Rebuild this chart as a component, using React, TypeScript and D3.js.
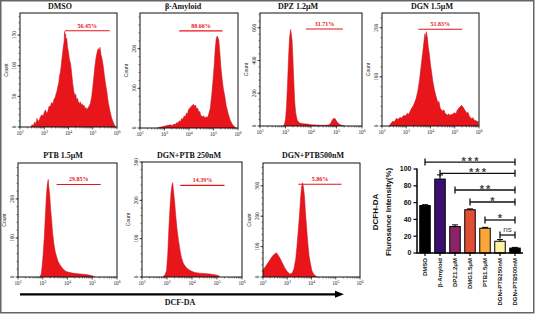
import React from 'react';
import * as d3 from 'd3';

// ---------------- DATA ----------------
const panelTitles = ['DMSO', 'β-Amyloid', 'DPZ 1.2μM', 'DGN 1.5μM', 'PTB 1.5μM', 'DGN+PTB 250nM', 'DGN+PTB500nM'];
const gatePercents = ['56.45%', '88.66%', '31.71%', '51.83%', '29.85%', '14.39%', '5.86%'];
const gateRanges: [number, number][] = [[3.85, 5.7], [3.6, 5.37], [3.8, 5.25], [3.5, 5.31], [3.56, 5.34], [3.53, 5.3], [3.46, 5.24]];
const gateHeights = [157, 245, 592, 197, 237, 239, 305];
const yMaxes = [186, 290, 690, 230, 292, 300, 375];
const yTickValues = [[0, 50, 100, 150], [0, 100, 200], [0, 200, 400, 600], [0, 100, 200], [0, 100, 200], [0, 100, 200, 300], [0, 100, 200, 300]];
const yMinorSteps = [10, 20, 40, 20, 20, 20, 20];
const xDecades = [2, 3, 4, 5, 6];

// histograms: [log10 fluorescence, count]
const dmsoHist: [number, number][] = [[2.45, 0], [2.5, 4], [2.55, 2], [2.6, 8], [2.65, 5], [2.7, 14], [2.75, 9], [2.8, 12], [2.85, 17], [2.9, 20], [2.96, 18], [3.0, 24], [3.05, 28], [3.1, 22], [3.15, 26], [3.2, 34], [3.25, 33], [3.3, 40], [3.35, 38], [3.4, 45], [3.45, 48], [3.5, 56], [3.52, 58], [3.56, 66], [3.6, 72], [3.63, 84], [3.66, 88], [3.7, 100], [3.73, 112], [3.75, 118], [3.79, 132], [3.82, 140], [3.84, 156], [3.86, 148], [3.88, 152], [3.9, 140], [3.93, 145], [3.96, 130], [4.0, 122], [4.04, 110], [4.08, 104], [4.12, 92], [4.17, 72], [4.22, 58], [4.27, 50], [4.3, 54], [4.33, 44], [4.37, 47], [4.4, 42], [4.46, 38], [4.49, 41], [4.52, 36], [4.56, 38], [4.6, 34], [4.64, 36], [4.68, 30], [4.72, 32], [4.75, 28], [4.82, 32], [4.86, 35], [4.9, 38], [4.96, 50], [5.02, 72], [5.08, 96], [5.13, 112], [5.18, 122], [5.22, 128], [5.26, 124], [5.3, 130], [5.34, 118], [5.38, 112], [5.43, 100], [5.48, 84], [5.53, 70], [5.58, 58], [5.64, 40], [5.7, 28], [5.77, 16], [5.84, 8], [5.9, 3], [5.95, 0]];
const amyloidHist: [number, number][] = [[2.7, 0], [2.8, 2], [2.95, 4], [3.1, 6], [3.25, 8], [3.3, 6], [3.4, 10], [3.45, 9], [3.5, 14], [3.55, 12], [3.6, 18], [3.65, 16], [3.7, 24], [3.75, 22], [3.8, 30], [3.85, 29], [3.9, 38], [3.94, 36], [3.98, 46], [4.05, 52], [4.12, 56], [4.18, 60], [4.22, 55], [4.26, 58], [4.32, 48], [4.36, 50], [4.4, 40], [4.44, 42], [4.48, 32], [4.56, 28], [4.6, 31], [4.64, 26], [4.72, 28], [4.76, 27], [4.8, 34], [4.87, 50], [4.93, 85], [4.98, 120], [5.03, 160], [5.07, 200], [5.11, 225], [5.15, 232], [5.18, 228], [5.22, 220], [5.26, 190], [5.3, 155], [5.35, 125], [5.4, 100], [5.46, 80], [5.52, 56], [5.6, 36], [5.68, 20], [5.76, 10], [5.85, 4], [5.92, 0]];
const dpzHist: [number, number][] = [[2.9, 0], [2.96, 10], [3.0, 40], [3.04, 120], [3.08, 260], [3.12, 420], [3.16, 540], [3.2, 590], [3.23, 560], [3.26, 520], [3.29, 420], [3.32, 300], [3.36, 150], [3.4, 80], [3.46, 35], [3.55, 18], [3.7, 14], [3.85, 12], [4.0, 8], [4.2, 6], [4.4, 4], [4.6, 5], [4.72, 8], [4.78, 20], [4.84, 38], [4.9, 48], [4.95, 44], [5.0, 30], [5.06, 18], [5.14, 8], [5.25, 3], [5.32, 0]];
const dgnHist: [number, number][] = [[2.3, 0], [2.35, 4], [2.45, 10], [2.5, 8], [2.6, 16], [2.65, 13], [2.75, 18], [2.8, 16], [2.9, 22], [2.95, 20], [3.05, 26], [3.1, 24], [3.2, 34], [3.3, 42], [3.4, 55], [3.48, 72], [3.55, 95], [3.62, 125], [3.68, 150], [3.73, 172], [3.77, 188], [3.8, 178], [3.83, 192], [3.87, 180], [3.91, 160], [3.95, 148], [4.0, 125], [4.05, 108], [4.1, 90], [4.16, 74], [4.22, 62], [4.3, 48], [4.35, 50], [4.4, 36], [4.5, 30], [4.55, 33], [4.6, 26], [4.7, 22], [4.75, 25], [4.8, 22], [4.9, 24], [5.0, 27], [5.05, 25], [5.1, 32], [5.2, 38], [5.28, 42], [5.35, 38], [5.42, 32], [5.5, 26], [5.55, 28], [5.6, 20], [5.7, 15], [5.75, 17], [5.8, 12], [5.9, 10], [5.98, 8]];
const ptbHist: [number, number][] = [[2.88, 0], [2.94, 8], [2.98, 30], [3.02, 62], [3.06, 100], [3.1, 150], [3.14, 200], [3.18, 235], [3.22, 250], [3.25, 228], [3.28, 212], [3.32, 172], [3.36, 145], [3.4, 112], [3.45, 85], [3.5, 66], [3.56, 52], [3.62, 40], [3.7, 31], [3.78, 24], [3.86, 18], [3.95, 14], [4.05, 12], [4.2, 10], [4.35, 9], [4.5, 8], [4.65, 7], [4.8, 6], [4.95, 4], [5.05, 2], [5.1, 0]];
const combo250Hist: [number, number][] = [[2.84, 0], [2.92, 6], [2.98, 16], [3.03, 60], [3.07, 120], [3.11, 170], [3.16, 220], [3.2, 240], [3.23, 246], [3.26, 225], [3.3, 200], [3.35, 160], [3.4, 125], [3.46, 95], [3.52, 70], [3.58, 50], [3.65, 36], [3.75, 26], [3.85, 20], [3.95, 16], [4.1, 12], [4.3, 10], [4.5, 9], [4.7, 8], [4.9, 6], [5.05, 4], [5.12, 0]];
const combo500Hist: [number, number][] = [[2.0, 24], [2.1, 34], [2.2, 46], [2.3, 58], [2.4, 70], [2.48, 76], [2.55, 80], [2.62, 72], [2.7, 62], [2.8, 46], [2.9, 30], [3.0, 18], [3.1, 10], [3.2, 12], [3.28, 28], [3.35, 60], [3.4, 100], [3.45, 150], [3.5, 200], [3.55, 260], [3.59, 296], [3.63, 310], [3.67, 295], [3.71, 265], [3.75, 215], [3.8, 160], [3.85, 110], [3.9, 70], [3.96, 42], [4.02, 20], [4.1, 8], [4.2, 2], [4.25, 0]];
const histograms = [dmsoHist, amyloidHist, dpzHist, dgnHist, ptbHist, combo250Hist, combo500Hist];

// bar chart
const barCategories = ['DMSO', 'β-Amyloid', 'DPZ1.2μM', 'DMG1.5μM', 'PTB1.5μM', 'DGN+PTB250nM', 'DGN+PTB500nM'];
const barValues = [56.5, 88, 31.5, 51.5, 29.5, 14, 5.86];
const barErrors = [1, 5, 2, 1, 1, 2, 0.8];
const barYTicks = [0, 20, 40, 60, 80, 100];
const sigFrom = [0, 1, 2, 3, 4, 5];
const sigTo = [6, 6, 6, 6, 6, 6];
const sigLabels = ['***', '***', '**', '*', '*', 'ns'];
const sigLevels = [108.3, 94.9, 75, 60.7, 39.3, 21.4];

// ---------------- LAYOUT / STYLE ----------------
const W = 535, H = 314;
type Box = { x0: number; x1: number; y0: number; y1: number };
const panelBoxes: Box[] = [
  { x0: 20, x1: 117, y0: 13, y1: 127 },
  { x0: 140, x1: 238, y0: 13, y1: 128 },
  { x0: 260, x1: 362, y0: 13, y1: 126 },
  { x0: 382, x1: 479, y0: 13, y1: 126 },
  { x0: 18, x1: 117, y0: 163, y1: 277 },
  { x0: 142, x1: 242, y0: 162, y1: 277 },
  { x0: 263, x1: 360, y0: 163, y1: 277 },
];
const titlePos = [[60, 9], [183, 9], [298, 9], [432, 9], [63, 158], [189, 158], [313, 158]];
const barColors = ['#000000', '#3b0f6f', '#8c2369', '#de4f33', '#fca636', '#fcf4a3', '#000000'];
const RED = '#e8151b';
const SERIF = '"Liberation Serif", "Times New Roman", serif';
const SANS = '"Liberation Sans", Arial, sans-serif';

function Hist({ i }: { i: number }) {
  const b = panelBoxes[i];
  const x = d3.scaleLog().domain([1e2, 1e6]).range([b.x0, b.x1]);
  const y = d3.scaleLinear().domain([0, yMaxes[i]]).range([b.y1, b.y0]);
  const area = d3.area<[number, number]>()
    .x(d => x(Math.pow(10, d[0])))
    .y0(b.y1)
    .y1(d => y(d[1]));
  const line = d3.line<[number, number]>()
    .x(d => x(Math.pow(10, d[0])))
    .y(d => y(d[1]));
  const minorX = x.ticks().filter(t => {
    const l = Math.log10(t);
    return Math.abs(l - Math.round(l)) > 1e-6;
  });
  const minorY = d3.range(0, yMaxes[i] + 0.1, yMinorSteps[i]);
  const [g0, g1] = gateRanges[i];
  const gy = y(gateHeights[i]);
  const gx0 = x(Math.pow(10, g0));
  const gx1 = x(Math.pow(10, g1));
  const midY = (b.y0 + b.y1) / 2;
  return (
    <g>
      <path d={area(histograms[i]) || ''} fill={RED} />
      <path d={line(histograms[i]) || ''} fill="none" stroke="#c4101a" strokeWidth={0.5} />
      <rect x={b.x0} y={b.y0} width={b.x1 - b.x0} height={b.y1 - b.y0} fill="none" stroke="#111" strokeWidth={1} />
      {minorX.map((t, k) => (
        <line key={'mx' + k} x1={x(t)} x2={x(t)} y1={b.y1} y2={b.y1 + 1.5} stroke="#111" strokeWidth={0.5} />
      ))}
      {xDecades.map(d => (
        <g key={'xd' + d}>
          <line x1={x(Math.pow(10, d))} x2={x(Math.pow(10, d))} y1={b.y1} y2={b.y1 + 2.5} stroke="#111" strokeWidth={0.7} />
          <text x={x(Math.pow(10, d))} y={b.y1 + 8} textAnchor="middle" fontSize={5.2} fontFamily={SERIF} fill="#222">
            10<tspan dy={-2} fontSize={3.8}>{d}</tspan>
          </text>
        </g>
      ))}
      {minorY.map((t, k) => (
        <line key={'my' + k} x1={b.x0 - 1.5} x2={b.x0} y1={y(t)} y2={y(t)} stroke="#111" strokeWidth={0.5} />
      ))}
      {yTickValues[i].map(t => (
        <g key={'yt' + t}>
          <line x1={b.x0 - 2.5} x2={b.x0} y1={y(t)} y2={y(t)} stroke="#111" strokeWidth={0.7} />
          <text transform={`translate(${b.x0 - 4},${y(t)}) rotate(-90)`} textAnchor="middle" fontSize={5.2} fontFamily={SERIF} fill="#222">{t}</text>
        </g>
      ))}
      <text transform={`translate(${b.x0 - 12},${midY}) rotate(-90)`} textAnchor="middle" fontSize={5} fontFamily={SANS} fill="#222">Count</text>
      <line x1={gx0} x2={gx1} y1={gy} y2={gy} stroke={RED} strokeWidth={1.1} />
      <text x={(gx0 + gx1) / 2} y={gy - 3} textAnchor="middle" fontSize={6} fontWeight="bold" fontFamily={SERIF} fill={RED}>{gatePercents[i]}</text>
      <text x={titlePos[i][0]} y={titlePos[i][1]} textAnchor="middle" fontSize={8} fontWeight="bold" fontFamily={SERIF} fill="#111">{panelTitles[i]}</text>
    </g>
  );
}

function BarChart() {
  const x = d3.scaleBand<string>().domain(barCategories).range([417.5, 522.5]).paddingInner(0.3).paddingOuter(0.15);
  const y = d3.scaleLinear().domain([0, 100]).range([253, 169]);
  const bw = x.bandwidth();
  const cx = (c: string) => (x(c) as number) + bw / 2;
  return (
    <g fontFamily={SANS}>
      {barCategories.map((c, k) => (
        <g key={c}>
          <rect x={x(c)} y={y(barValues[k])} width={bw} height={y(0) - y(barValues[k])} fill={barColors[k]} stroke="#000" strokeWidth={1} />
          <line x1={cx(c)} x2={cx(c)} y1={y(barValues[k])} y2={y(barValues[k] + barErrors[k])} stroke="#000" strokeWidth={1} />
          <line x1={cx(c) - 3} x2={cx(c) + 3} y1={y(barValues[k] + barErrors[k])} y2={y(barValues[k] + barErrors[k])} stroke="#000" strokeWidth={1} />
          <line x1={cx(c)} x2={cx(c)} y1={253} y2={256} stroke="#000" strokeWidth={1.2} />
          <text transform={`translate(${cx(c) + 2.2},${258}) rotate(-90)`} textAnchor="end" fontSize={6} fontWeight="bold" fill="#111">{c}</text>
        </g>
      ))}
      <line x1={417} x2={417} y1={y(100) - 0.5} y2={y(0)} stroke="#000" strokeWidth={1.5} />
      <line x1={416.3} x2={523} y1={y(0)} y2={y(0)} stroke="#000" strokeWidth={1.5} />
      {barYTicks.map(t => (
        <g key={'by' + t}>
          <line x1={413.5} x2={417} y1={y(t)} y2={y(t)} stroke="#000" strokeWidth={1.2} />
          <text x={411.5} y={y(t) + 2.3} textAnchor="end" fontSize={7} fontWeight="bold" fill="#111">{t}</text>
        </g>
      ))}
      {sigLabels.map((s, k) => {
        const a = cx(barCategories[sigFrom[k]]);
        const b2 = cx(barCategories[sigTo[k]]);
        const ly = y(sigLevels[k]);
        const isNs = s === 'ns';
        return (
          <g key={'sig' + k}>
            <line x1={a} x2={b2} y1={ly} y2={ly} stroke="#111" strokeWidth={1.3} />
            <line x1={a} x2={a} y1={ly - 3.5} y2={ly + 3.5} stroke="#111" strokeWidth={1.3} />
            <line x1={b2} x2={b2} y1={ly - 3.5} y2={ly + 3.5} stroke="#111" strokeWidth={1.3} />
            <text x={(a + b2) / 2 + (isNs ? 0 : 1)} y={isNs ? ly - 3.5 : ly + 2.5} textAnchor="middle" fontSize={isNs ? 8 : 11} fontWeight={isNs ? 'normal' : 'bold'} fill="#444" letterSpacing={isNs ? 0 : 2}>{s}</text>
          </g>
        );
      })}
      <text transform={`translate(378,212) rotate(-90)`} textAnchor="middle" fontSize={8} fontWeight="bold" fill="#111">DCFH-DA</text>
      <text transform={`translate(391,212) rotate(-90)`} textAnchor="middle" fontSize={7.8} fontWeight="bold" fill="#111">Flurosance Intensity(%)</text>
    </g>
  );
}

export default function App() {
  return (
    <svg width={W} height={H} viewBox={`0 0 ${W} ${H}`} style={{ position: 'absolute', left: 0, top: 0, background: '#fff' }}>
      <rect x={0} y={0} width={W} height={H} fill="#fff" />
      {panelBoxes.map((_, i) => <Hist key={i} i={i} />)}
      <BarChart />
      <line x1={20} x2={337} y1={294.3} y2={294.3} stroke="#000" strokeWidth={2.2} />
      <path d="M335,290.8 L344,294.3 L335,297.8 Z" fill="#000" />
      <text x={180} y={305} textAnchor="middle" fontSize={8} fontWeight="bold" fontFamily={SERIF} fill="#111">DCF-DA</text>
      <rect x={0.75} y={0.75} width={533} height={312} fill="none" stroke="#666" strokeWidth={1.5} />
    </svg>
  );
}
